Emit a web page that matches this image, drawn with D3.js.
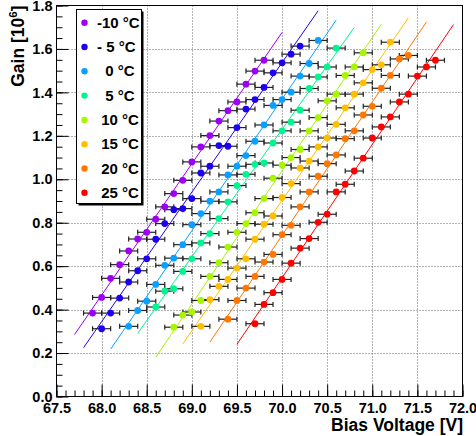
<!DOCTYPE html>
<html>
<head>
<meta charset="utf-8">
<script src="https://cdn.jsdelivr.net/npm/d3@7"></script>
<style>
  body { margin: 0; background: #fff; }
  text { font-family: "Liberation Sans", Arial, sans-serif; font-weight: bold; }
</style>
</head>
<body>
<div id="graph"></div>
<script>
// Data ////////////////////////////////////////////////////////////////////////
const temps = ["-10 °C", "- 5 °C", "  0 °C", "  5 °C", " 10 °C", " 15 °C", " 20 °C", " 25 °C"];
// first bias voltage of each scan, scans go up in 0.1 V steps
const firstV = [67.9, 68.0, 68.3, 68.6, 68.8, 69.1, 69.4, 69.7];
const stepV = 0.1;
const errV = 0.1;

const gainM10 = [0.384, 0.456, 0.544, 0.607, 0.670, 0.725, 0.756, 0.816, 0.873, 0.934,
  0.995, 1.080, 1.149, 1.201, 1.268, 1.316, 1.356, 1.438, 1.498, 1.548];
const gainM5 = [0.312, 0.384, 0.453, 0.527, 0.579, 0.634, 0.724, 0.796, 0.860, 0.865,
  0.911, 1.029, 1.060, 1.155, 1.152, 1.238, 1.323, 1.367, 1.423, 1.490, 1.536, 1.576, 1.613];
const gain0 = [0.323, 0.396, 0.439, 0.516, 0.604, 0.637, 0.699, 0.791, 0.842, 0.899,
  0.942, 1.020, 1.060, 1.109, 1.175, 1.250, 1.340, 1.367, 1.401, 1.475, 1.533, 1.639];
const gain5 = [0.412, 0.485, 0.496, 0.576, 0.634, 0.707, 0.750, 0.819, 0.896, 0.971,
  1.023, 1.069, 1.075, 1.167, 1.223, 1.263, 1.318, 1.418, 1.471, 1.517, 1.604];
const gain10 = [0.319, 0.375, 0.389, 0.442, 0.553, 0.616, 0.688, 0.756, 0.796, 0.846,
  0.911, 1.005, 1.065, 1.100, 1.137, 1.223, 1.284, 1.361, 1.392, 1.478, 1.517, 1.582];
const gain15 = [0.323, 0.446, 0.507, 0.539, 0.591, 0.634, 0.724, 0.793, 0.831, 0.916,
  0.980, 1.052, 1.084, 1.149, 1.190, 1.253, 1.329, 1.392, 1.444, 1.505, 1.527, 1.631];
const gain20 = [0.356, 0.442, 0.499, 0.553, 0.619, 0.654, 0.745, 0.788, 0.873, 0.942,
  1.014, 1.072, 1.112, 1.187, 1.223, 1.296, 1.336, 1.419, 1.478, 1.554, 1.570];
const gain25 = [0.335, 0.424, 0.478, 0.539, 0.614, 0.683, 0.727, 0.802, 0.839, 0.942,
  0.977, 1.038, 1.097, 1.190, 1.241, 1.287, 1.356, 1.392, 1.475, 1.517, 1.548];

const gains = [gainM10, gainM5, gain0, gain5, gain10, gain15, gain20, gain25];
const colors = ["#9b00f5", "#1c00ee", "#0aa0ff", "#00f590", "#a8f500", "#ffbf00", "#ff7700", "#ff0000"];

const xTicks = [67.5, 68.0, 68.5, 69.0, 69.5, 70.0, 70.5, 71.0, 71.5, 72.0];
const yTicks = [0.0, 0.2, 0.4, 0.6, 0.8, 1.0, 1.2, 1.4, 1.6, 1.8];

// Constants ///////////////////////////////////////////////////////////////////
const svgWidth = 476;
const svgHeight = 436;
const frame = { left: 56.5, right: 462.5, top: 5.5, bottom: 396.5 };

const x = d3.scaleLinear().domain([67.5, 72.0]).range([frame.left, frame.right]);
const y = d3.scaleLinear().domain([0, 1.8]).range([frame.bottom, frame.top]);

const series = gains.map((g, s) => ({
  label: temps[s],
  color: colors[s],
  points: g.map((gain, i) => ({ v: +(firstV[s] + i * stepV).toFixed(1), gain }))
}));

// Containers //////////////////////////////////////////////////////////////////
const svg = d3
  .select("#graph")
  .append("svg")
  .attr("width", svgWidth)
  .attr("height", svgHeight);

// Grid
const grid = svg.append("g").attr("stroke", "#666").attr("stroke-dasharray", "1,2").attr("stroke-width", 1);
grid.selectAll(".gx")
  .data(xTicks.slice(1, -1))
  .join("line")
  .attr("x1", d => Math.round(x(d)) + 0.5)
  .attr("x2", d => Math.round(x(d)) + 0.5)
  .attr("y1", frame.top)
  .attr("y2", frame.bottom);
grid.selectAll(".gy")
  .data(yTicks.slice(1, -1))
  .join("line")
  .attr("y1", d => Math.round(y(d)) + 0.5)
  .attr("y2", d => Math.round(y(d)) + 0.5)
  .attr("x1", frame.left)
  .attr("x2", frame.right);

// Axes
const axisFont = g => g.selectAll("text")
  .attr("font-family", "'Liberation Sans', Arial, sans-serif")
  .attr("font-weight", "bold")
  .attr("font-size", 14.5)
  .attr("fill", "#000");

const xMinor = d3.range(0, 46).map(i => 67.5 + i * 0.1);
const yMinor = d3.range(0, 37).map(i => i * 0.05);

svg.append("g")
  .attr("transform", `translate(0,${frame.bottom})`)
  .call(d3.axisBottom(x).tickValues(xMinor).tickSize(-6).tickFormat(""))
  .call(g => g.select(".domain").remove());
svg.append("g")
  .attr("transform", `translate(0,${frame.bottom})`)
  .call(d3.axisBottom(x).tickValues(xTicks).tickSize(-12).tickPadding(4).tickFormat(d3.format(".1f")))
  .call(g => g.select(".domain").remove())
  .call(axisFont)
  .call(g => g.selectAll("text").attr("dy", "0.85em"));

svg.append("g")
  .attr("transform", `translate(${frame.left},0)`)
  .call(d3.axisLeft(y).tickValues(yMinor).tickSize(-6).tickFormat(""))
  .call(g => g.select(".domain").remove());
svg.append("g")
  .attr("transform", `translate(${frame.left},0)`)
  .call(d3.axisLeft(y).tickValues(yTicks).tickSize(-12).tickPadding(4).tickFormat(d3.format(".1f")))
  .call(g => g.select(".domain").remove())
  .call(axisFont);

// Frame
svg.append("rect")
  .attr("x", frame.left)
  .attr("y", frame.top)
  .attr("width", frame.right - frame.left)
  .attr("height", frame.bottom - frame.top)
  .attr("fill", "none")
  .attr("stroke", "#000")
  .attr("stroke-width", 1);

// Fits (least squares, drawn 0.2 V beyond the measured range)
function fit(points) {
  const mx = d3.mean(points, d => d.v);
  const my = d3.mean(points, d => d.gain);
  const b = d3.sum(points, d => (d.v - mx) * (d.gain - my)) / d3.sum(points, d => (d.v - mx) ** 2);
  return v => my + b * (v - mx);
}

const plot = svg.append("g");

series.forEach(s => {
  const f = fit(s.points);
  const v0 = s.points[0].v - 0.2;
  const v1 = s.points[s.points.length - 1].v + 0.2;
  plot.append("line")
    .attr("x1", x(v0)).attr("y1", y(f(v0)))
    .attr("x2", x(v1)).attr("y2", y(f(v1)))
    .attr("stroke", s.color)
    .attr("stroke-width", 1);
});

series.forEach(s => {
  const g = plot.append("g");
  const bars = g.selectAll(".bar").data(s.points).join("g").attr("stroke", "#222").attr("stroke-width", 1.2);
  bars.append("line")
    .attr("x1", d => x(d.v - errV)).attr("x2", d => x(d.v + errV))
    .attr("y1", d => y(d.gain)).attr("y2", d => y(d.gain));
  bars.append("line")
    .attr("x1", d => x(d.v - errV)).attr("x2", d => x(d.v - errV))
    .attr("y1", d => y(d.gain) - 2.5).attr("y2", d => y(d.gain) + 2.5);
  bars.append("line")
    .attr("x1", d => x(d.v + errV)).attr("x2", d => x(d.v + errV))
    .attr("y1", d => y(d.gain) - 2.5).attr("y2", d => y(d.gain) + 2.5);
});

series.forEach(s => {
  plot.append("g").selectAll("circle")
    .data(s.points)
    .join("circle")
    .attr("cx", d => x(d.v))
    .attr("cy", d => y(d.gain))
    .attr("r", 3.4)
    .attr("fill", s.color);
});

// Axis titles
svg.append("text")
  .attr("transform", `translate(24,${frame.top}) rotate(-90)`)
  .attr("text-anchor", "end")
  .attr("font-size", 17.5)
  .call(t => {
    t.append("tspan").text("Gain [10");
    t.append("tspan").attr("font-size", 11.5).attr("dy", -7).text("6");
    t.append("tspan").attr("dy", 7).text("]");
  });

svg.append("text")
  .attr("x", 463)
  .attr("y", 431)
  .attr("text-anchor", "end")
  .attr("font-size", 17.5)
  .text("Bias Voltage [V]");

// Legend
const legend = svg.append("g");
legend.append("rect")
  .attr("x", 78.5).attr("y", 11.5).attr("width", 65).attr("height", 194)
  .attr("fill", "#000");
legend.append("rect")
  .attr("x", 76.5).attr("y", 9.5).attr("width", 65).attr("height", 194)
  .attr("fill", "#fff").attr("stroke", "#000").attr("stroke-width", 1);

const entry = legend.selectAll(".entry")
  .data(series)
  .join("g")
  .attr("transform", (d, i) => `translate(0,${22.7 + i * 24.3})`);
entry.append("circle")
  .attr("cx", 84.5).attr("cy", 0).attr("r", 3.2)
  .attr("fill", d => d.color);
entry.append("text")
  .attr("x", 97).attr("y", 5)
  .attr("font-size", 15)
  .style("white-space", "pre")
  .text(d => d.label);
</script>
</body>
</html>
